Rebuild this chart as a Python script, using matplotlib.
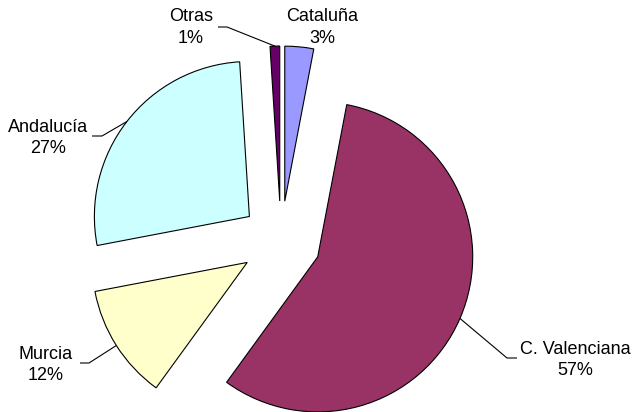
import matplotlib
matplotlib.use("Agg")
import matplotlib.pyplot as plt
import numpy as np

plt.rcParams['font.family'] = ['Liberation Sans', 'DejaVu Sans']

categories = ["Cataluña", "C. Valenciana", "Murcia", "Andalucía", "Otras"]
values = [3, 57, 12, 27, 1]
colors = ["#9999FF", "#993366", "#FFFFCC", "#CCFFFF", "#660066"]

W, H = 637, 412
fig = plt.figure(figsize=(W / 100, H / 100), dpi=100)
ax = fig.add_axes([0, 0, 1, 1])

center = (281, H - 241)
radius = 155
explode = [40] * len(values)

wedges, _ = ax.pie(values, colors=colors, explode=explode, startangle=90,
                   counterclock=False, center=center, radius=radius,
                   wedgeprops=dict(edgecolor='black', linewidth=0.8),
                   frame=True)
ax.set_xlim(0, W)
ax.set_ylim(0, H)
ax.set_aspect('equal')
ax.axis('off')

# label layout: text center (px), elbow start x (px), elbow end x (px), elbow y (px)
label_pos = {
    "Otras": (191, 27.5, 218, 227, 27),
    "Cataluña": (322, 27.5, None, None, None),
    "Andalucía": (48, 138, 92, 102, 136),
    "Murcia": (46, 365, 80, 89, 363),
    "C. Valenciana": (575, 360, 517, 507, 358),
}

for w, cat, val in zip(wedges, categories, values):
    tx, ty, x0, x1, ly = label_pos[cat]
    ax.text(tx, H - ty, f"{cat}\n{val}%", ha='center', va='center',
            fontsize=13, linespacing=1.38, color='black')
    if x0 is not None:
        thm = np.deg2rad(0.5 * (w.theta1 + w.theta2))
        px = w.center[0] + w.r * np.cos(thm)
        py = w.center[1] + w.r * np.sin(thm)
        ax.plot([x0, x1, px], [H - ly, H - ly, py], color='black', lw=0.8,
                solid_capstyle='butt')

fig.savefig("out.png", dpi=100)
